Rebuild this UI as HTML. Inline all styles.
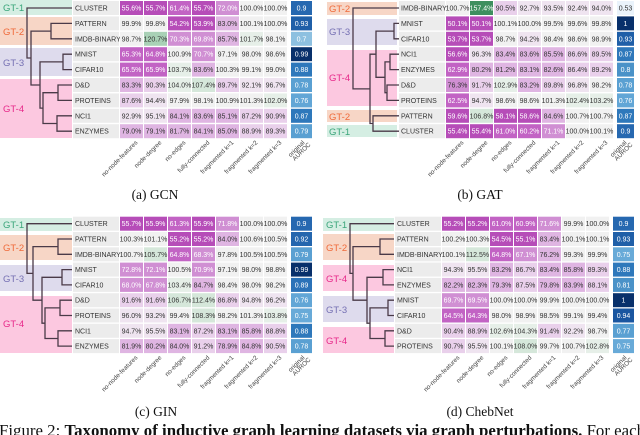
<!DOCTYPE html>
<html><head><meta charset="utf-8"><style>
html,body{margin:0;padding:0;background:#fff;width:640px;height:435px;overflow:hidden;position:relative}
svg{position:absolute;overflow:hidden}
text{font-family:"Liberation Sans",sans-serif;font-size:7px;fill:#333}
text.w{fill:#fff}
.A{fill:#b64db8}.B{fill:#c263c4}.C{fill:#d08fd3}.D{fill:#dfb5e2}.E{fill:#e9d0eb}.F{fill:#efe4f0}.N{fill:#f1f1f1}.G{fill:#e6efe8}.H{fill:#d5e7da}.I{fill:#a9d1b6}.J{fill:#3e8f5f}
.L{fill:#ececec}
.gt{font-size:9.5px}
.tk{font-size:6.3px;fill:#444}
.cap{font-family:"Liberation Serif",serif;font-size:13.5px;fill:#111}
path{fill:none;stroke:#4a3a48;stroke-width:1.3}
</style></head><body>

<!-- (a) GCN -->
<svg style="left:0;top:0" width="320" height="210" viewBox="0 0 320 210">
<rect x="0" y="0" width="72" height="15" fill="#d5eee3"/><text class="gt" x="3" y="11" style="fill:#3aa57a">GT-1</text>
<rect x="0" y="17" width="72" height="28" fill="#f7d6c6"/><text class="gt" x="3" y="35" style="fill:#ef6a3a">GT-2</text>
<rect x="0" y="48" width="72" height="28" fill="#dedbed"/><text class="gt" x="3" y="66" style="fill:#7570b3">GT-3</text>
<rect x="0" y="79" width="72" height="59" fill="#fcc8e0"/><text class="gt" x="3" y="112" style="fill:#e7298a">GT-4</text>
<path d="M72 23.4H51V38.8H72M72 54.2H63V69.6H72M72 85H58V100.4H72M72 115.8H57V131.2H72M58 92.7H43V123.5H57M63 61.9H40V108.1H43M51 31.1H31V85H40M72 8H27V58H31"/>
<g transform="translate(0,8)"><rect class="L" x="73" y="-7" width="46" height="14"/><text x="75" y="2.5">CLUSTER</text>
<rect class="A" x="120" y="-7" width="23" height="14"/><text class="w" x="131.5" y="2.5" text-anchor="middle">55.6%</text>
<rect class="A" x="144" y="-7" width="23" height="14"/><text class="w" x="155.5" y="2.5" text-anchor="middle">55.7%</text>
<rect class="B" x="168" y="-7" width="23" height="14"/><text class="w" x="179.5" y="2.5" text-anchor="middle">61.4%</text>
<rect class="A" x="192" y="-7" width="23" height="14"/><text class="w" x="203.5" y="2.5" text-anchor="middle">55.7%</text>
<rect class="C" x="216" y="-7" width="23" height="14"/><text class="w" x="227.5" y="2.5" text-anchor="middle">72.0%</text>
<rect class="N" x="240" y="-7" width="23" height="14"/><text x="251.5" y="2.5" text-anchor="middle">100.0%</text>
<rect class="N" x="264" y="-7" width="23" height="14"/><text x="275.5" y="2.5" text-anchor="middle">100.0%</text>
<rect x="291" y="-7" width="21" height="14" fill="#2668b0"/><text class="w" x="301.5" y="2.5" text-anchor="middle">0.9</text></g>
<g transform="translate(0,23.4)"><rect class="L" x="73" y="-7" width="46" height="14"/><text x="75" y="2.5">PATTERN</text>
<rect class="N" x="120" y="-7" width="23" height="14"/><text x="131.5" y="2.5" text-anchor="middle">99.9%</text>
<rect class="N" x="144" y="-7" width="23" height="14"/><text x="155.5" y="2.5" text-anchor="middle">99.8%</text>
<rect class="A" x="168" y="-7" width="23" height="14"/><text class="w" x="179.5" y="2.5" text-anchor="middle">54.2%</text>
<rect class="A" x="192" y="-7" width="23" height="14"/><text class="w" x="203.5" y="2.5" text-anchor="middle">53.9%</text>
<rect class="D" x="216" y="-7" width="23" height="14"/><text x="227.5" y="2.5" text-anchor="middle">83.0%</text>
<rect class="N" x="240" y="-7" width="23" height="14"/><text x="251.5" y="2.5" text-anchor="middle">100.1%</text>
<rect class="N" x="264" y="-7" width="23" height="14"/><text x="275.5" y="2.5" text-anchor="middle">100.0%</text>
<rect x="291" y="-7" width="21" height="14" fill="#1f5fa8"/><text class="w" x="301.5" y="2.5" text-anchor="middle">0.93</text></g>
<g transform="translate(0,38.8)"><rect class="L" x="73" y="-7" width="46" height="14"/><text x="75" y="2.5">IMDB-BINARY</text>
<rect class="N" x="120" y="-7" width="23" height="14"/><text x="131.5" y="2.5" text-anchor="middle">98.7%</text>
<rect class="I" x="144" y="-7" width="23" height="14"/><text x="155.5" y="2.5" text-anchor="middle">120.7%</text>
<rect class="C" x="168" y="-7" width="23" height="14"/><text class="w" x="179.5" y="2.5" text-anchor="middle">70.3%</text>
<rect class="C" x="192" y="-7" width="23" height="14"/><text class="w" x="203.5" y="2.5" text-anchor="middle">69.8%</text>
<rect class="D" x="216" y="-7" width="23" height="14"/><text x="227.5" y="2.5" text-anchor="middle">85.7%</text>
<rect class="G" x="240" y="-7" width="23" height="14"/><text x="251.5" y="2.5" text-anchor="middle">101.7%</text>
<rect class="N" x="264" y="-7" width="23" height="14"/><text x="275.5" y="2.5" text-anchor="middle">98.1%</text>
<rect x="291" y="-7" width="21" height="14" fill="#8dc0e0"/><text class="w" x="301.5" y="2.5" text-anchor="middle">0.7</text></g>
<g transform="translate(0,54.2)"><rect class="L" x="73" y="-7" width="46" height="14"/><text x="75" y="2.5">MNIST</text>
<rect class="B" x="120" y="-7" width="23" height="14"/><text class="w" x="131.5" y="2.5" text-anchor="middle">65.3%</text>
<rect class="B" x="144" y="-7" width="23" height="14"/><text class="w" x="155.5" y="2.5" text-anchor="middle">64.8%</text>
<rect class="N" x="168" y="-7" width="23" height="14"/><text x="179.5" y="2.5" text-anchor="middle">100.9%</text>
<rect class="C" x="192" y="-7" width="23" height="14"/><text class="w" x="203.5" y="2.5" text-anchor="middle">70.7%</text>
<rect class="N" x="216" y="-7" width="23" height="14"/><text x="227.5" y="2.5" text-anchor="middle">97.1%</text>
<rect class="N" x="240" y="-7" width="23" height="14"/><text x="251.5" y="2.5" text-anchor="middle">98.0%</text>
<rect class="N" x="264" y="-7" width="23" height="14"/><text x="275.5" y="2.5" text-anchor="middle">98.6%</text>
<rect x="291" y="-7" width="21" height="14" fill="#08306b"/><text class="w" x="301.5" y="2.5" text-anchor="middle">0.99</text></g>
<g transform="translate(0,69.6)"><rect class="L" x="73" y="-7" width="46" height="14"/><text x="75" y="2.5">CIFAR10</text>
<rect class="B" x="120" y="-7" width="23" height="14"/><text class="w" x="131.5" y="2.5" text-anchor="middle">65.5%</text>
<rect class="B" x="144" y="-7" width="23" height="14"/><text class="w" x="155.5" y="2.5" text-anchor="middle">65.9%</text>
<rect class="G" x="168" y="-7" width="23" height="14"/><text x="179.5" y="2.5" text-anchor="middle">103.7%</text>
<rect class="D" x="192" y="-7" width="23" height="14"/><text x="203.5" y="2.5" text-anchor="middle">83.6%</text>
<rect class="N" x="216" y="-7" width="23" height="14"/><text x="227.5" y="2.5" text-anchor="middle">100.3%</text>
<rect class="N" x="240" y="-7" width="23" height="14"/><text x="251.5" y="2.5" text-anchor="middle">99.1%</text>
<rect class="N" x="264" y="-7" width="23" height="14"/><text x="275.5" y="2.5" text-anchor="middle">99.0%</text>
<rect x="291" y="-7" width="21" height="14" fill="#2e78bb"/><text class="w" x="301.5" y="2.5" text-anchor="middle">0.88</text></g>
<g transform="translate(0,85)"><rect class="L" x="73" y="-7" width="46" height="14"/><text x="75" y="2.5">D&amp;D</text>
<rect class="D" x="120" y="-7" width="23" height="14"/><text x="131.5" y="2.5" text-anchor="middle">83.3%</text>
<rect class="E" x="144" y="-7" width="23" height="14"/><text x="155.5" y="2.5" text-anchor="middle">90.3%</text>
<rect class="G" x="168" y="-7" width="23" height="14"/><text x="179.5" y="2.5" text-anchor="middle">104.0%</text>
<rect class="H" x="192" y="-7" width="23" height="14"/><text x="203.5" y="2.5" text-anchor="middle">107.4%</text>
<rect class="E" x="216" y="-7" width="23" height="14"/><text x="227.5" y="2.5" text-anchor="middle">89.7%</text>
<rect class="F" x="240" y="-7" width="23" height="14"/><text x="251.5" y="2.5" text-anchor="middle">92.1%</text>
<rect class="F" x="264" y="-7" width="23" height="14"/><text x="275.5" y="2.5" text-anchor="middle">96.7%</text>
<rect x="291" y="-7" width="21" height="14" fill="#5aa0d2"/><text class="w" x="301.5" y="2.5" text-anchor="middle">0.78</text></g>
<g transform="translate(0,100.4)"><rect class="L" x="73" y="-7" width="46" height="14"/><text x="75" y="2.5">PROTEINS</text>
<rect class="E" x="120" y="-7" width="23" height="14"/><text x="131.5" y="2.5" text-anchor="middle">87.6%</text>
<rect class="F" x="144" y="-7" width="23" height="14"/><text x="155.5" y="2.5" text-anchor="middle">94.4%</text>
<rect class="N" x="168" y="-7" width="23" height="14"/><text x="179.5" y="2.5" text-anchor="middle">97.9%</text>
<rect class="N" x="192" y="-7" width="23" height="14"/><text x="203.5" y="2.5" text-anchor="middle">98.1%</text>
<rect class="N" x="216" y="-7" width="23" height="14"/><text x="227.5" y="2.5" text-anchor="middle">100.9%</text>
<rect class="N" x="240" y="-7" width="23" height="14"/><text x="251.5" y="2.5" text-anchor="middle">101.3%</text>
<rect class="G" x="264" y="-7" width="23" height="14"/><text x="275.5" y="2.5" text-anchor="middle">102.0%</text>
<rect x="291" y="-7" width="21" height="14" fill="#62a6d6"/><text class="w" x="301.5" y="2.5" text-anchor="middle">0.76</text></g>
<g transform="translate(0,115.8)"><rect class="L" x="73" y="-7" width="46" height="14"/><text x="75" y="2.5">NCI1</text>
<rect class="F" x="120" y="-7" width="23" height="14"/><text x="131.5" y="2.5" text-anchor="middle">92.9%</text>
<rect class="F" x="144" y="-7" width="23" height="14"/><text x="155.5" y="2.5" text-anchor="middle">95.1%</text>
<rect class="D" x="168" y="-7" width="23" height="14"/><text x="179.5" y="2.5" text-anchor="middle">84.1%</text>
<rect class="D" x="192" y="-7" width="23" height="14"/><text x="203.5" y="2.5" text-anchor="middle">83.6%</text>
<rect class="D" x="216" y="-7" width="23" height="14"/><text x="227.5" y="2.5" text-anchor="middle">85.1%</text>
<rect class="E" x="240" y="-7" width="23" height="14"/><text x="251.5" y="2.5" text-anchor="middle">87.2%</text>
<rect class="E" x="264" y="-7" width="23" height="14"/><text x="275.5" y="2.5" text-anchor="middle">90.9%</text>
<rect x="291" y="-7" width="21" height="14" fill="#2e78bb"/><text class="w" x="301.5" y="2.5" text-anchor="middle">0.87</text></g>
<g transform="translate(0,131.2)"><rect class="L" x="73" y="-7" width="46" height="14"/><text x="75" y="2.5">ENZYMES</text>
<rect class="D" x="120" y="-7" width="23" height="14"/><text x="131.5" y="2.5" text-anchor="middle">79.0%</text>
<rect class="D" x="144" y="-7" width="23" height="14"/><text x="155.5" y="2.5" text-anchor="middle">79.1%</text>
<rect class="D" x="168" y="-7" width="23" height="14"/><text x="179.5" y="2.5" text-anchor="middle">81.7%</text>
<rect class="D" x="192" y="-7" width="23" height="14"/><text x="203.5" y="2.5" text-anchor="middle">84.1%</text>
<rect class="D" x="216" y="-7" width="23" height="14"/><text x="227.5" y="2.5" text-anchor="middle">85.0%</text>
<rect class="E" x="240" y="-7" width="23" height="14"/><text x="251.5" y="2.5" text-anchor="middle">88.9%</text>
<rect class="E" x="264" y="-7" width="23" height="14"/><text x="275.5" y="2.5" text-anchor="middle">89.3%</text>
<rect x="291" y="-7" width="21" height="14" fill="#5aa0d2"/><text class="w" x="301.5" y="2.5" text-anchor="middle">0.79</text></g>
<g class="tk">
<text class="tk" text-anchor="end" transform="translate(138,143) rotate(-45)">no-node-features</text>
<text class="tk" text-anchor="end" transform="translate(162,143) rotate(-45)">node-degree</text>
<text class="tk" text-anchor="end" transform="translate(186,143) rotate(-45)">no-edges</text>
<text class="tk" text-anchor="end" transform="translate(210,143) rotate(-45)">fully-connected</text>
<text class="tk" text-anchor="end" transform="translate(234,143) rotate(-45)">fragmented k=1</text>
<text class="tk" text-anchor="end" transform="translate(258,143) rotate(-45)">fragmented k=2</text>
<text class="tk" text-anchor="end" transform="translate(282,143) rotate(-45)">fragmented k=3</text>
<text class="tk" text-anchor="end" transform="translate(305,143) rotate(-45)">original</text>
<text class="tk" text-anchor="end" transform="translate(311,145) rotate(-45)">AUROC</text></g>
<text class="cap" x="155" y="199" text-anchor="middle">(a) GCN</text>
</svg>

<!-- (b) GAT -->
<svg style="left:320px;top:0" width="320" height="210" viewBox="0 0 320 210">
<rect x="7" y="2" width="70" height="13" fill="#f7d6c6"/><text class="gt" x="9" y="12" style="fill:#ef6a3a">GT-2</text>
<rect x="7" y="19" width="70" height="26" fill="#dedbed"/><text class="gt" x="9" y="35" style="fill:#7570b3">GT-3</text>
<rect x="7" y="50" width="70" height="56" fill="#fcc8e0"/><text class="gt" x="9" y="81" style="fill:#e7298a">GT-4</text>
<rect x="7" y="110" width="70" height="12" fill="#f7d6c6"/><text class="gt" x="9" y="120" style="fill:#ef6a3a">GT-2</text>
<rect x="7" y="125" width="70" height="12" fill="#d5eee3"/><text class="gt" x="9" y="135" style="fill:#3aa57a">GT-1</text>
<path d="M80 23.4H74V38.8H80M80 54.2H70V69.6H80M80 85H67V100.4H80M70 61.9H65V92.7H67M74 31.1H56V77.3H65M80 115.8H53V131.2H80M56 54.2H50V123.5H53M80 8H33V88.9H50"/>
<g transform="translate(0,8)"><rect class="L" x="79" y="-7" width="46" height="14"/><text x="81" y="2.5">IMDB-BINARY</text>
<rect class="N" x="126" y="-7" width="23" height="14"/><text x="137.5" y="2.5" text-anchor="middle">100.7%</text>
<rect class="J" x="150" y="-7" width="23" height="14"/><text class="w" x="161.5" y="2.5" text-anchor="middle">157.4%</text>
<rect class="E" x="174" y="-7" width="23" height="14"/><text x="185.5" y="2.5" text-anchor="middle">90.5%</text>
<rect class="F" x="198" y="-7" width="23" height="14"/><text x="209.5" y="2.5" text-anchor="middle">92.7%</text>
<rect class="F" x="222" y="-7" width="23" height="14"/><text x="233.5" y="2.5" text-anchor="middle">93.5%</text>
<rect class="F" x="246" y="-7" width="23" height="14"/><text x="257.5" y="2.5" text-anchor="middle">92.4%</text>
<rect class="F" x="270" y="-7" width="23" height="14"/><text x="281.5" y="2.5" text-anchor="middle">94.0%</text>
<rect x="297" y="-7" width="17" height="14" fill="#eaf3fb"/><text x="305.5" y="2.5" text-anchor="middle">0.53</text></g>
<g transform="translate(0,23.4)"><rect class="L" x="79" y="-7" width="46" height="14"/><text x="81" y="2.5">MNIST</text>
<rect class="A" x="126" y="-7" width="23" height="14"/><text class="w" x="137.5" y="2.5" text-anchor="middle">50.1%</text>
<rect class="A" x="150" y="-7" width="23" height="14"/><text class="w" x="161.5" y="2.5" text-anchor="middle">50.1%</text>
<rect class="N" x="174" y="-7" width="23" height="14"/><text x="185.5" y="2.5" text-anchor="middle">100.1%</text>
<rect class="N" x="198" y="-7" width="23" height="14"/><text x="209.5" y="2.5" text-anchor="middle">100.0%</text>
<rect class="N" x="222" y="-7" width="23" height="14"/><text x="233.5" y="2.5" text-anchor="middle">99.5%</text>
<rect class="N" x="246" y="-7" width="23" height="14"/><text x="257.5" y="2.5" text-anchor="middle">99.6%</text>
<rect class="N" x="270" y="-7" width="23" height="14"/><text x="281.5" y="2.5" text-anchor="middle">99.8%</text>
<rect x="297" y="-7" width="17" height="14" fill="#08306b"/><text class="w" x="305.5" y="2.5" text-anchor="middle">1</text></g>
<g transform="translate(0,38.8)"><rect class="L" x="79" y="-7" width="46" height="14"/><text x="81" y="2.5">CIFAR10</text>
<rect class="A" x="126" y="-7" width="23" height="14"/><text class="w" x="137.5" y="2.5" text-anchor="middle">53.7%</text>
<rect class="A" x="150" y="-7" width="23" height="14"/><text class="w" x="161.5" y="2.5" text-anchor="middle">53.7%</text>
<rect class="N" x="174" y="-7" width="23" height="14"/><text x="185.5" y="2.5" text-anchor="middle">98.7%</text>
<rect class="F" x="198" y="-7" width="23" height="14"/><text x="209.5" y="2.5" text-anchor="middle">94.2%</text>
<rect class="N" x="222" y="-7" width="23" height="14"/><text x="233.5" y="2.5" text-anchor="middle">98.4%</text>
<rect class="N" x="246" y="-7" width="23" height="14"/><text x="257.5" y="2.5" text-anchor="middle">98.6%</text>
<rect class="N" x="270" y="-7" width="23" height="14"/><text x="281.5" y="2.5" text-anchor="middle">98.9%</text>
<rect x="297" y="-7" width="17" height="14" fill="#1f5fa8"/><text class="w" x="305.5" y="2.5" text-anchor="middle">0.93</text></g>
<g transform="translate(0,54.2)"><rect class="L" x="79" y="-7" width="46" height="14"/><text x="81" y="2.5">NCI1</text>
<rect class="A" x="126" y="-7" width="23" height="14"/><text class="w" x="137.5" y="2.5" text-anchor="middle">56.6%</text>
<rect class="F" x="150" y="-7" width="23" height="14"/><text x="161.5" y="2.5" text-anchor="middle">96.3%</text>
<rect class="D" x="174" y="-7" width="23" height="14"/><text x="185.5" y="2.5" text-anchor="middle">83.4%</text>
<rect class="D" x="198" y="-7" width="23" height="14"/><text x="209.5" y="2.5" text-anchor="middle">83.6%</text>
<rect class="D" x="222" y="-7" width="23" height="14"/><text x="233.5" y="2.5" text-anchor="middle">85.5%</text>
<rect class="E" x="246" y="-7" width="23" height="14"/><text x="257.5" y="2.5" text-anchor="middle">86.6%</text>
<rect class="E" x="270" y="-7" width="23" height="14"/><text x="281.5" y="2.5" text-anchor="middle">89.5%</text>
<rect x="297" y="-7" width="17" height="14" fill="#2e78bb"/><text class="w" x="305.5" y="2.5" text-anchor="middle">0.87</text></g>
<g transform="translate(0,69.6)"><rect class="L" x="79" y="-7" width="46" height="14"/><text x="81" y="2.5">ENZYMES</text>
<rect class="B" x="126" y="-7" width="23" height="14"/><text class="w" x="137.5" y="2.5" text-anchor="middle">62.9%</text>
<rect class="D" x="150" y="-7" width="23" height="14"/><text x="161.5" y="2.5" text-anchor="middle">80.2%</text>
<rect class="D" x="174" y="-7" width="23" height="14"/><text x="185.5" y="2.5" text-anchor="middle">81.2%</text>
<rect class="D" x="198" y="-7" width="23" height="14"/><text x="209.5" y="2.5" text-anchor="middle">83.1%</text>
<rect class="D" x="222" y="-7" width="23" height="14"/><text x="233.5" y="2.5" text-anchor="middle">82.6%</text>
<rect class="E" x="246" y="-7" width="23" height="14"/><text x="257.5" y="2.5" text-anchor="middle">86.4%</text>
<rect class="E" x="270" y="-7" width="23" height="14"/><text x="281.5" y="2.5" text-anchor="middle">89.2%</text>
<rect x="297" y="-7" width="17" height="14" fill="#4a92c8"/><text class="w" x="305.5" y="2.5" text-anchor="middle">0.8</text></g>
<g transform="translate(0,85)"><rect class="L" x="79" y="-7" width="46" height="14"/><text x="81" y="2.5">D&amp;D</text>
<rect class="C" x="126" y="-7" width="23" height="14"/><text x="137.5" y="2.5" text-anchor="middle">76.3%</text>
<rect class="E" x="150" y="-7" width="23" height="14"/><text x="161.5" y="2.5" text-anchor="middle">91.7%</text>
<rect class="G" x="174" y="-7" width="23" height="14"/><text x="185.5" y="2.5" text-anchor="middle">102.9%</text>
<rect class="D" x="198" y="-7" width="23" height="14"/><text x="209.5" y="2.5" text-anchor="middle">83.2%</text>
<rect class="E" x="222" y="-7" width="23" height="14"/><text x="233.5" y="2.5" text-anchor="middle">89.8%</text>
<rect class="F" x="246" y="-7" width="23" height="14"/><text x="257.5" y="2.5" text-anchor="middle">96.8%</text>
<rect class="N" x="270" y="-7" width="23" height="14"/><text x="281.5" y="2.5" text-anchor="middle">98.2%</text>
<rect x="297" y="-7" width="17" height="14" fill="#5aa0d2"/><text class="w" x="305.5" y="2.5" text-anchor="middle">0.78</text></g>
<g transform="translate(0,100.4)"><rect class="L" x="79" y="-7" width="46" height="14"/><text x="81" y="2.5">PROTEINS</text>
<rect class="B" x="126" y="-7" width="23" height="14"/><text class="w" x="137.5" y="2.5" text-anchor="middle">62.5%</text>
<rect class="F" x="150" y="-7" width="23" height="14"/><text x="161.5" y="2.5" text-anchor="middle">94.7%</text>
<rect class="N" x="174" y="-7" width="23" height="14"/><text x="185.5" y="2.5" text-anchor="middle">98.6%</text>
<rect class="N" x="198" y="-7" width="23" height="14"/><text x="209.5" y="2.5" text-anchor="middle">98.6%</text>
<rect class="N" x="222" y="-7" width="23" height="14"/><text x="233.5" y="2.5" text-anchor="middle">101.3%</text>
<rect class="G" x="246" y="-7" width="23" height="14"/><text x="257.5" y="2.5" text-anchor="middle">102.4%</text>
<rect class="G" x="270" y="-7" width="23" height="14"/><text x="281.5" y="2.5" text-anchor="middle">103.2%</text>
<rect x="297" y="-7" width="17" height="14" fill="#62a6d6"/><text class="w" x="305.5" y="2.5" text-anchor="middle">0.76</text></g>
<g transform="translate(0,115.8)"><rect class="L" x="79" y="-7" width="46" height="14"/><text x="81" y="2.5">PATTERN</text>
<rect class="A" x="126" y="-7" width="23" height="14"/><text class="w" x="137.5" y="2.5" text-anchor="middle">59.6%</text>
<rect class="H" x="150" y="-7" width="23" height="14"/><text x="161.5" y="2.5" text-anchor="middle">106.8%</text>
<rect class="A" x="174" y="-7" width="23" height="14"/><text class="w" x="185.5" y="2.5" text-anchor="middle">58.1%</text>
<rect class="A" x="198" y="-7" width="23" height="14"/><text class="w" x="209.5" y="2.5" text-anchor="middle">58.6%</text>
<rect class="D" x="222" y="-7" width="23" height="14"/><text x="233.5" y="2.5" text-anchor="middle">84.6%</text>
<rect class="N" x="246" y="-7" width="23" height="14"/><text x="257.5" y="2.5" text-anchor="middle">100.7%</text>
<rect class="N" x="270" y="-7" width="23" height="14"/><text x="281.5" y="2.5" text-anchor="middle">100.7%</text>
<rect x="297" y="-7" width="17" height="14" fill="#2e78bb"/><text class="w" x="305.5" y="2.5" text-anchor="middle">0.87</text></g>
<g transform="translate(0,131.2)"><rect class="L" x="79" y="-7" width="46" height="14"/><text x="81" y="2.5">CLUSTER</text>
<rect class="A" x="126" y="-7" width="23" height="14"/><text class="w" x="137.5" y="2.5" text-anchor="middle">55.4%</text>
<rect class="A" x="150" y="-7" width="23" height="14"/><text class="w" x="161.5" y="2.5" text-anchor="middle">55.4%</text>
<rect class="B" x="174" y="-7" width="23" height="14"/><text class="w" x="185.5" y="2.5" text-anchor="middle">61.0%</text>
<rect class="B" x="198" y="-7" width="23" height="14"/><text class="w" x="209.5" y="2.5" text-anchor="middle">60.2%</text>
<rect class="C" x="222" y="-7" width="23" height="14"/><text class="w" x="233.5" y="2.5" text-anchor="middle">71.1%</text>
<rect class="N" x="246" y="-7" width="23" height="14"/><text x="257.5" y="2.5" text-anchor="middle">100.0%</text>
<rect class="N" x="270" y="-7" width="23" height="14"/><text x="281.5" y="2.5" text-anchor="middle">100.1%</text>
<rect x="297" y="-7" width="17" height="14" fill="#2668b0"/><text class="w" x="305.5" y="2.5" text-anchor="middle">0.9</text></g>
<text class="tk" text-anchor="end" transform="translate(144,143) rotate(-45)">no-node-features</text>
<text class="tk" text-anchor="end" transform="translate(168,143) rotate(-45)">node-degree</text>
<text class="tk" text-anchor="end" transform="translate(192,143) rotate(-45)">no-edges</text>
<text class="tk" text-anchor="end" transform="translate(216,143) rotate(-45)">fully-connected</text>
<text class="tk" text-anchor="end" transform="translate(240,143) rotate(-45)">fragmented k=1</text>
<text class="tk" text-anchor="end" transform="translate(264,143) rotate(-45)">fragmented k=2</text>
<text class="tk" text-anchor="end" transform="translate(288,143) rotate(-45)">fragmented k=3</text>
<text class="tk" text-anchor="end" transform="translate(307,143) rotate(-45)">original</text>
<text class="tk" text-anchor="end" transform="translate(313,145) rotate(-45)">AUROC</text>
<text class="cap" x="160" y="199" text-anchor="middle">(b) GAT</text>
</svg>

<!-- (c) GIN -->
<svg style="left:0;top:210px" width="320" height="210" viewBox="0 0 320 210">
<rect x="0" y="8" width="72" height="13" fill="#d5eee3"/><text class="gt" x="3" y="18" style="fill:#3aa57a">GT-1</text>
<rect x="0" y="25" width="72" height="25" fill="#f7d6c6"/><text class="gt" x="3" y="41" style="fill:#ef6a3a">GT-2</text>
<rect x="0" y="55" width="72" height="26" fill="#dedbed"/><text class="gt" x="3" y="72" style="fill:#7570b3">GT-3</text>
<rect x="0" y="86" width="72" height="57" fill="#fcc8e0"/><text class="gt" x="3" y="117" style="fill:#e7298a">GT-4</text>
<path d="M72 29H58V44.3H72M72 59.6H62V74.9H72M72 90.2H60V105.5H72M72 120.8H58V136.1H72M60 97.9H45V128.5H58M62 67.3H42V113.2H45M58 36.6H33V90.2H42M72 13.7H27V63.4H33"/>
<g transform="translate(0,13.7)"><rect class="L" x="73" y="-7" width="46" height="14"/><text x="75" y="2.5">CLUSTER</text>
<rect class="A" x="120" y="-7" width="23" height="14"/><text class="w" x="131.5" y="2.5" text-anchor="middle">55.7%</text>
<rect class="A" x="144" y="-7" width="23" height="14"/><text class="w" x="155.5" y="2.5" text-anchor="middle">55.9%</text>
<rect class="B" x="168" y="-7" width="23" height="14"/><text class="w" x="179.5" y="2.5" text-anchor="middle">61.3%</text>
<rect class="A" x="192" y="-7" width="23" height="14"/><text class="w" x="203.5" y="2.5" text-anchor="middle">55.9%</text>
<rect class="C" x="216" y="-7" width="23" height="14"/><text class="w" x="227.5" y="2.5" text-anchor="middle">71.8%</text>
<rect class="N" x="240" y="-7" width="23" height="14"/><text x="251.5" y="2.5" text-anchor="middle">100.0%</text>
<rect class="N" x="264" y="-7" width="23" height="14"/><text x="275.5" y="2.5" text-anchor="middle">100.0%</text>
<rect x="291" y="-7" width="21" height="14" fill="#2668b0"/><text class="w" x="301.5" y="2.5" text-anchor="middle">0.9</text></g>
<g transform="translate(0,29)"><rect class="L" x="73" y="-7" width="46" height="14"/><text x="75" y="2.5">PATTERN</text>
<rect class="N" x="120" y="-7" width="23" height="14"/><text x="131.5" y="2.5" text-anchor="middle">100.3%</text>
<rect class="N" x="144" y="-7" width="23" height="14"/><text x="155.5" y="2.5" text-anchor="middle">101.1%</text>
<rect class="A" x="168" y="-7" width="23" height="14"/><text class="w" x="179.5" y="2.5" text-anchor="middle">55.2%</text>
<rect class="A" x="192" y="-7" width="23" height="14"/><text class="w" x="203.5" y="2.5" text-anchor="middle">55.2%</text>
<rect class="D" x="216" y="-7" width="23" height="14"/><text x="227.5" y="2.5" text-anchor="middle">84.0%</text>
<rect class="N" x="240" y="-7" width="23" height="14"/><text x="251.5" y="2.5" text-anchor="middle">100.6%</text>
<rect class="N" x="264" y="-7" width="23" height="14"/><text x="275.5" y="2.5" text-anchor="middle">100.5%</text>
<rect x="291" y="-7" width="21" height="14" fill="#2466ae"/><text class="w" x="301.5" y="2.5" text-anchor="middle">0.92</text></g>
<g transform="translate(0,44.3)"><rect class="L" x="73" y="-7" width="46" height="14"/><text x="75" y="2.5">IMDB-BINARY</text>
<rect class="N" x="120" y="-7" width="23" height="14"/><text x="131.5" y="2.5" text-anchor="middle">100.7%</text>
<rect class="H" x="144" y="-7" width="23" height="14"/><text x="155.5" y="2.5" text-anchor="middle">105.7%</text>
<rect class="B" x="168" y="-7" width="23" height="14"/><text class="w" x="179.5" y="2.5" text-anchor="middle">64.8%</text>
<rect class="C" x="192" y="-7" width="23" height="14"/><text class="w" x="203.5" y="2.5" text-anchor="middle">68.3%</text>
<rect class="N" x="216" y="-7" width="23" height="14"/><text x="227.5" y="2.5" text-anchor="middle">97.8%</text>
<rect class="N" x="240" y="-7" width="23" height="14"/><text x="251.5" y="2.5" text-anchor="middle">100.5%</text>
<rect class="N" x="264" y="-7" width="23" height="14"/><text x="275.5" y="2.5" text-anchor="middle">100.5%</text>
<rect x="291" y="-7" width="21" height="14" fill="#5aa0d2"/><text class="w" x="301.5" y="2.5" text-anchor="middle">0.79</text></g>
<g transform="translate(0,59.6)"><rect class="L" x="73" y="-7" width="46" height="14"/><text x="75" y="2.5">MNIST</text>
<rect class="C" x="120" y="-7" width="23" height="14"/><text class="w" x="131.5" y="2.5" text-anchor="middle">72.8%</text>
<rect class="C" x="144" y="-7" width="23" height="14"/><text class="w" x="155.5" y="2.5" text-anchor="middle">72.1%</text>
<rect class="N" x="168" y="-7" width="23" height="14"/><text x="179.5" y="2.5" text-anchor="middle">100.5%</text>
<rect class="C" x="192" y="-7" width="23" height="14"/><text class="w" x="203.5" y="2.5" text-anchor="middle">70.9%</text>
<rect class="N" x="216" y="-7" width="23" height="14"/><text x="227.5" y="2.5" text-anchor="middle">97.1%</text>
<rect class="N" x="240" y="-7" width="23" height="14"/><text x="251.5" y="2.5" text-anchor="middle">98.0%</text>
<rect class="N" x="264" y="-7" width="23" height="14"/><text x="275.5" y="2.5" text-anchor="middle">98.8%</text>
<rect x="291" y="-7" width="21" height="14" fill="#08306b"/><text class="w" x="301.5" y="2.5" text-anchor="middle">0.99</text></g>
<g transform="translate(0,74.9)"><rect class="L" x="73" y="-7" width="46" height="14"/><text x="75" y="2.5">CIFAR10</text>
<rect class="C" x="120" y="-7" width="23" height="14"/><text class="w" x="131.5" y="2.5" text-anchor="middle">68.0%</text>
<rect class="C" x="144" y="-7" width="23" height="14"/><text class="w" x="155.5" y="2.5" text-anchor="middle">67.8%</text>
<rect class="G" x="168" y="-7" width="23" height="14"/><text x="179.5" y="2.5" text-anchor="middle">103.4%</text>
<rect class="D" x="192" y="-7" width="23" height="14"/><text x="203.5" y="2.5" text-anchor="middle">84.7%</text>
<rect class="N" x="216" y="-7" width="23" height="14"/><text x="227.5" y="2.5" text-anchor="middle">98.4%</text>
<rect class="N" x="240" y="-7" width="23" height="14"/><text x="251.5" y="2.5" text-anchor="middle">98.0%</text>
<rect class="N" x="264" y="-7" width="23" height="14"/><text x="275.5" y="2.5" text-anchor="middle">98.2%</text>
<rect x="291" y="-7" width="21" height="14" fill="#2b72b8"/><text class="w" x="301.5" y="2.5" text-anchor="middle">0.89</text></g>
<g transform="translate(0,90.2)"><rect class="L" x="73" y="-7" width="46" height="14"/><text x="75" y="2.5">D&amp;D</text>
<rect class="E" x="120" y="-7" width="23" height="14"/><text x="131.5" y="2.5" text-anchor="middle">91.6%</text>
<rect class="E" x="144" y="-7" width="23" height="14"/><text x="155.5" y="2.5" text-anchor="middle">91.6%</text>
<rect class="H" x="168" y="-7" width="23" height="14"/><text x="179.5" y="2.5" text-anchor="middle">106.7%</text>
<rect class="H" x="192" y="-7" width="23" height="14"/><text x="203.5" y="2.5" text-anchor="middle">112.4%</text>
<rect class="E" x="216" y="-7" width="23" height="14"/><text x="227.5" y="2.5" text-anchor="middle">86.8%</text>
<rect class="F" x="240" y="-7" width="23" height="14"/><text x="251.5" y="2.5" text-anchor="middle">94.8%</text>
<rect class="F" x="264" y="-7" width="23" height="14"/><text x="275.5" y="2.5" text-anchor="middle">96.2%</text>
<rect x="291" y="-7" width="21" height="14" fill="#62a6d6"/><text class="w" x="301.5" y="2.5" text-anchor="middle">0.76</text></g>
<g transform="translate(0,105.5)"><rect class="L" x="73" y="-7" width="46" height="14"/><text x="75" y="2.5">PROTEINS</text>
<rect class="F" x="120" y="-7" width="23" height="14"/><text x="131.5" y="2.5" text-anchor="middle">96.0%</text>
<rect class="F" x="144" y="-7" width="23" height="14"/><text x="155.5" y="2.5" text-anchor="middle">93.2%</text>
<rect class="N" x="168" y="-7" width="23" height="14"/><text x="179.5" y="2.5" text-anchor="middle">99.4%</text>
<rect class="H" x="192" y="-7" width="23" height="14"/><text x="203.5" y="2.5" text-anchor="middle">108.3%</text>
<rect class="N" x="216" y="-7" width="23" height="14"/><text x="227.5" y="2.5" text-anchor="middle">98.2%</text>
<rect class="N" x="240" y="-7" width="23" height="14"/><text x="251.5" y="2.5" text-anchor="middle">101.3%</text>
<rect class="G" x="264" y="-7" width="23" height="14"/><text x="275.5" y="2.5" text-anchor="middle">103.8%</text>
<rect x="291" y="-7" width="21" height="14" fill="#68aad8"/><text class="w" x="301.5" y="2.5" text-anchor="middle">0.75</text></g>
<g transform="translate(0,120.8)"><rect class="L" x="73" y="-7" width="46" height="14"/><text x="75" y="2.5">NCI1</text>
<rect class="F" x="120" y="-7" width="23" height="14"/><text x="131.5" y="2.5" text-anchor="middle">94.7%</text>
<rect class="F" x="144" y="-7" width="23" height="14"/><text x="155.5" y="2.5" text-anchor="middle">95.5%</text>
<rect class="D" x="168" y="-7" width="23" height="14"/><text x="179.5" y="2.5" text-anchor="middle">83.1%</text>
<rect class="E" x="192" y="-7" width="23" height="14"/><text x="203.5" y="2.5" text-anchor="middle">87.2%</text>
<rect class="D" x="216" y="-7" width="23" height="14"/><text x="227.5" y="2.5" text-anchor="middle">83.1%</text>
<rect class="D" x="240" y="-7" width="23" height="14"/><text x="251.5" y="2.5" text-anchor="middle">85.8%</text>
<rect class="E" x="264" y="-7" width="23" height="14"/><text x="275.5" y="2.5" text-anchor="middle">88.8%</text>
<rect x="291" y="-7" width="21" height="14" fill="#2e78bb"/><text class="w" x="301.5" y="2.5" text-anchor="middle">0.88</text></g>
<g transform="translate(0,136.1)"><rect class="L" x="73" y="-7" width="46" height="14"/><text x="75" y="2.5">ENZYMES</text>
<rect class="D" x="120" y="-7" width="23" height="14"/><text x="131.5" y="2.5" text-anchor="middle">81.9%</text>
<rect class="D" x="144" y="-7" width="23" height="14"/><text x="155.5" y="2.5" text-anchor="middle">80.2%</text>
<rect class="D" x="168" y="-7" width="23" height="14"/><text x="179.5" y="2.5" text-anchor="middle">84.0%</text>
<rect class="E" x="192" y="-7" width="23" height="14"/><text x="203.5" y="2.5" text-anchor="middle">91.2%</text>
<rect class="D" x="216" y="-7" width="23" height="14"/><text x="227.5" y="2.5" text-anchor="middle">78.9%</text>
<rect class="D" x="240" y="-7" width="23" height="14"/><text x="251.5" y="2.5" text-anchor="middle">84.8%</text>
<rect class="E" x="264" y="-7" width="23" height="14"/><text x="275.5" y="2.5" text-anchor="middle">90.5%</text>
<rect x="291" y="-7" width="21" height="14" fill="#5aa0d2"/><text class="w" x="301.5" y="2.5" text-anchor="middle">0.78</text></g>
<text class="tk" text-anchor="end" transform="translate(138,148) rotate(-45)">no-node-features</text>
<text class="tk" text-anchor="end" transform="translate(162,148) rotate(-45)">node-degree</text>
<text class="tk" text-anchor="end" transform="translate(186,148) rotate(-45)">no-edges</text>
<text class="tk" text-anchor="end" transform="translate(210,148) rotate(-45)">fully-connected</text>
<text class="tk" text-anchor="end" transform="translate(234,148) rotate(-45)">fragmented k=1</text>
<text class="tk" text-anchor="end" transform="translate(258,148) rotate(-45)">fragmented k=2</text>
<text class="tk" text-anchor="end" transform="translate(282,148) rotate(-45)">fragmented k=3</text>
<text class="tk" text-anchor="end" transform="translate(305,148) rotate(-45)">original</text>
<text class="tk" text-anchor="end" transform="translate(311,150) rotate(-45)">AUROC</text>
<text class="cap" x="156" y="206" text-anchor="middle">(c) GIN</text>
</svg>

<!-- (d) ChebNet -->
<svg style="left:320px;top:210px" width="320" height="210" viewBox="0 0 320 210">
<rect x="3" y="8" width="71" height="13" fill="#d5eee3"/><text class="gt" x="6" y="18" style="fill:#3aa57a">GT-1</text>
<rect x="3" y="24" width="71" height="26" fill="#f7d6c6"/><text class="gt" x="6" y="41" style="fill:#ef6a3a">GT-2</text>
<rect x="3" y="55" width="71" height="26" fill="#fcc8e0"/><text class="gt" x="6" y="72" style="fill:#e7298a">GT-4</text>
<rect x="3" y="86" width="71" height="26" fill="#dedbed"/><text class="gt" x="6" y="103" style="fill:#7570b3">GT-3</text>
<rect x="3" y="117" width="71" height="26" fill="#fcc8e0"/><text class="gt" x="6" y="134" style="fill:#e7298a">GT-4</text>
<path d="M74 29H60V44.3H74M74 59.6H63V74.9H74M74 90.2H68V105.5H74M74 120.8H65V136.1H74M68 97.9H50V128.5H65M63 67.3H47V113.2H50M60 36.6H33V90.2H47M74 13.7H30V63.4H33"/>
<g transform="translate(0,13.7)"><rect class="L" x="75" y="-7" width="46" height="14"/><text x="77" y="2.5">CLUSTER</text>
<rect class="A" x="122" y="-7" width="23" height="14"/><text class="w" x="133.5" y="2.5" text-anchor="middle">55.2%</text>
<rect class="A" x="146" y="-7" width="23" height="14"/><text class="w" x="157.5" y="2.5" text-anchor="middle">55.2%</text>
<rect class="B" x="170" y="-7" width="23" height="14"/><text class="w" x="181.5" y="2.5" text-anchor="middle">61.0%</text>
<rect class="B" x="194" y="-7" width="23" height="14"/><text class="w" x="205.5" y="2.5" text-anchor="middle">60.9%</text>
<rect class="C" x="218" y="-7" width="23" height="14"/><text class="w" x="229.5" y="2.5" text-anchor="middle">71.6%</text>
<rect class="N" x="242" y="-7" width="23" height="14"/><text x="253.5" y="2.5" text-anchor="middle">99.9%</text>
<rect class="N" x="266" y="-7" width="23" height="14"/><text x="277.5" y="2.5" text-anchor="middle">100.0%</text>
<rect x="293" y="-7" width="21" height="14" fill="#2668b0"/><text class="w" x="303.5" y="2.5" text-anchor="middle">0.9</text></g>
<g transform="translate(0,29)"><rect class="L" x="75" y="-7" width="46" height="14"/><text x="77" y="2.5">PATTERN</text>
<rect class="N" x="122" y="-7" width="23" height="14"/><text x="133.5" y="2.5" text-anchor="middle">100.2%</text>
<rect class="N" x="146" y="-7" width="23" height="14"/><text x="157.5" y="2.5" text-anchor="middle">100.3%</text>
<rect class="A" x="170" y="-7" width="23" height="14"/><text class="w" x="181.5" y="2.5" text-anchor="middle">54.5%</text>
<rect class="A" x="194" y="-7" width="23" height="14"/><text class="w" x="205.5" y="2.5" text-anchor="middle">55.1%</text>
<rect class="D" x="218" y="-7" width="23" height="14"/><text x="229.5" y="2.5" text-anchor="middle">83.4%</text>
<rect class="N" x="242" y="-7" width="23" height="14"/><text x="253.5" y="2.5" text-anchor="middle">100.1%</text>
<rect class="N" x="266" y="-7" width="23" height="14"/><text x="277.5" y="2.5" text-anchor="middle">100.1%</text>
<rect x="293" y="-7" width="21" height="14" fill="#1f5fa8"/><text class="w" x="303.5" y="2.5" text-anchor="middle">0.93</text></g>
<g transform="translate(0,44.3)"><rect class="L" x="75" y="-7" width="46" height="14"/><text x="77" y="2.5">IMDB-BINARY</text>
<rect class="N" x="122" y="-7" width="23" height="14"/><text x="133.5" y="2.5" text-anchor="middle">100.1%</text>
<rect class="H" x="146" y="-7" width="23" height="14"/><text x="157.5" y="2.5" text-anchor="middle">112.5%</text>
<rect class="B" x="170" y="-7" width="23" height="14"/><text class="w" x="181.5" y="2.5" text-anchor="middle">64.8%</text>
<rect class="C" x="194" y="-7" width="23" height="14"/><text class="w" x="205.5" y="2.5" text-anchor="middle">67.1%</text>
<rect class="D" x="218" y="-7" width="23" height="14"/><text x="229.5" y="2.5" text-anchor="middle">76.2%</text>
<rect class="N" x="242" y="-7" width="23" height="14"/><text x="253.5" y="2.5" text-anchor="middle">99.3%</text>
<rect class="N" x="266" y="-7" width="23" height="14"/><text x="277.5" y="2.5" text-anchor="middle">99.9%</text>
<rect x="293" y="-7" width="21" height="14" fill="#68aad8"/><text class="w" x="303.5" y="2.5" text-anchor="middle">0.75</text></g>
<g transform="translate(0,59.6)"><rect class="L" x="75" y="-7" width="46" height="14"/><text x="77" y="2.5">NCI1</text>
<rect class="F" x="122" y="-7" width="23" height="14"/><text x="133.5" y="2.5" text-anchor="middle">94.3%</text>
<rect class="F" x="146" y="-7" width="23" height="14"/><text x="157.5" y="2.5" text-anchor="middle">95.5%</text>
<rect class="D" x="170" y="-7" width="23" height="14"/><text x="181.5" y="2.5" text-anchor="middle">83.2%</text>
<rect class="E" x="194" y="-7" width="23" height="14"/><text x="205.5" y="2.5" text-anchor="middle">86.7%</text>
<rect class="D" x="218" y="-7" width="23" height="14"/><text x="229.5" y="2.5" text-anchor="middle">83.4%</text>
<rect class="D" x="242" y="-7" width="23" height="14"/><text x="253.5" y="2.5" text-anchor="middle">85.8%</text>
<rect class="E" x="266" y="-7" width="23" height="14"/><text x="277.5" y="2.5" text-anchor="middle">89.3%</text>
<rect x="293" y="-7" width="21" height="14" fill="#2e78bb"/><text class="w" x="303.5" y="2.5" text-anchor="middle">0.88</text></g>
<g transform="translate(0,74.9)"><rect class="L" x="75" y="-7" width="46" height="14"/><text x="77" y="2.5">ENZYMES</text>
<rect class="D" x="122" y="-7" width="23" height="14"/><text x="133.5" y="2.5" text-anchor="middle">82.2%</text>
<rect class="D" x="146" y="-7" width="23" height="14"/><text x="157.5" y="2.5" text-anchor="middle">82.3%</text>
<rect class="D" x="170" y="-7" width="23" height="14"/><text x="181.5" y="2.5" text-anchor="middle">79.3%</text>
<rect class="E" x="194" y="-7" width="23" height="14"/><text x="205.5" y="2.5" text-anchor="middle">87.5%</text>
<rect class="D" x="218" y="-7" width="23" height="14"/><text x="229.5" y="2.5" text-anchor="middle">79.8%</text>
<rect class="D" x="242" y="-7" width="23" height="14"/><text x="253.5" y="2.5" text-anchor="middle">83.9%</text>
<rect class="E" x="266" y="-7" width="23" height="14"/><text x="277.5" y="2.5" text-anchor="middle">88.1%</text>
<rect x="293" y="-7" width="21" height="14" fill="#4a92c8"/><text class="w" x="303.5" y="2.5" text-anchor="middle">0.81</text></g>
<g transform="translate(0,90.2)"><rect class="L" x="75" y="-7" width="46" height="14"/><text x="77" y="2.5">MNIST</text>
<rect class="C" x="122" y="-7" width="23" height="14"/><text class="w" x="133.5" y="2.5" text-anchor="middle">69.7%</text>
<rect class="C" x="146" y="-7" width="23" height="14"/><text class="w" x="157.5" y="2.5" text-anchor="middle">69.5%</text>
<rect class="N" x="170" y="-7" width="23" height="14"/><text x="181.5" y="2.5" text-anchor="middle">100.0%</text>
<rect class="N" x="194" y="-7" width="23" height="14"/><text x="205.5" y="2.5" text-anchor="middle">100.0%</text>
<rect class="N" x="218" y="-7" width="23" height="14"/><text x="229.5" y="2.5" text-anchor="middle">99.9%</text>
<rect class="N" x="242" y="-7" width="23" height="14"/><text x="253.5" y="2.5" text-anchor="middle">100.0%</text>
<rect class="N" x="266" y="-7" width="23" height="14"/><text x="277.5" y="2.5" text-anchor="middle">100.0%</text>
<rect x="293" y="-7" width="21" height="14" fill="#08306b"/><text class="w" x="303.5" y="2.5" text-anchor="middle">1</text></g>
<g transform="translate(0,105.5)"><rect class="L" x="75" y="-7" width="46" height="14"/><text x="77" y="2.5">CIFAR10</text>
<rect class="B" x="122" y="-7" width="23" height="14"/><text class="w" x="133.5" y="2.5" text-anchor="middle">64.5%</text>
<rect class="B" x="146" y="-7" width="23" height="14"/><text class="w" x="157.5" y="2.5" text-anchor="middle">64.3%</text>
<rect class="N" x="170" y="-7" width="23" height="14"/><text x="181.5" y="2.5" text-anchor="middle">98.0%</text>
<rect class="N" x="194" y="-7" width="23" height="14"/><text x="205.5" y="2.5" text-anchor="middle">98.9%</text>
<rect class="N" x="218" y="-7" width="23" height="14"/><text x="229.5" y="2.5" text-anchor="middle">98.5%</text>
<rect class="N" x="242" y="-7" width="23" height="14"/><text x="253.5" y="2.5" text-anchor="middle">99.1%</text>
<rect class="N" x="266" y="-7" width="23" height="14"/><text x="277.5" y="2.5" text-anchor="middle">99.4%</text>
<rect x="293" y="-7" width="21" height="14" fill="#1a56a0"/><text class="w" x="303.5" y="2.5" text-anchor="middle">0.94</text></g>
<g transform="translate(0,120.8)"><rect class="L" x="75" y="-7" width="46" height="14"/><text x="77" y="2.5">D&amp;D</text>
<rect class="E" x="122" y="-7" width="23" height="14"/><text x="133.5" y="2.5" text-anchor="middle">90.4%</text>
<rect class="E" x="146" y="-7" width="23" height="14"/><text x="157.5" y="2.5" text-anchor="middle">88.9%</text>
<rect class="G" x="170" y="-7" width="23" height="14"/><text x="181.5" y="2.5" text-anchor="middle">102.6%</text>
<rect class="G" x="194" y="-7" width="23" height="14"/><text x="205.5" y="2.5" text-anchor="middle">104.3%</text>
<rect class="E" x="218" y="-7" width="23" height="14"/><text x="229.5" y="2.5" text-anchor="middle">91.4%</text>
<rect class="F" x="242" y="-7" width="23" height="14"/><text x="253.5" y="2.5" text-anchor="middle">92.2%</text>
<rect class="N" x="266" y="-7" width="23" height="14"/><text x="277.5" y="2.5" text-anchor="middle">98.7%</text>
<rect x="293" y="-7" width="21" height="14" fill="#5aa0d2"/><text class="w" x="303.5" y="2.5" text-anchor="middle">0.77</text></g>
<g transform="translate(0,136.1)"><rect class="L" x="75" y="-7" width="46" height="14"/><text x="77" y="2.5">PROTEINS</text>
<rect class="E" x="122" y="-7" width="23" height="14"/><text x="133.5" y="2.5" text-anchor="middle">90.7%</text>
<rect class="F" x="146" y="-7" width="23" height="14"/><text x="157.5" y="2.5" text-anchor="middle">95.5%</text>
<rect class="N" x="170" y="-7" width="23" height="14"/><text x="181.5" y="2.5" text-anchor="middle">100.1%</text>
<rect class="H" x="194" y="-7" width="23" height="14"/><text x="205.5" y="2.5" text-anchor="middle">108.0%</text>
<rect class="N" x="218" y="-7" width="23" height="14"/><text x="229.5" y="2.5" text-anchor="middle">99.7%</text>
<rect class="N" x="242" y="-7" width="23" height="14"/><text x="253.5" y="2.5" text-anchor="middle">100.7%</text>
<rect class="G" x="266" y="-7" width="23" height="14"/><text x="277.5" y="2.5" text-anchor="middle">102.8%</text>
<rect x="293" y="-7" width="21" height="14" fill="#68aad8"/><text class="w" x="303.5" y="2.5" text-anchor="middle">0.75</text></g>
<text class="tk" text-anchor="end" transform="translate(140,148) rotate(-45)">no-node-features</text>
<text class="tk" text-anchor="end" transform="translate(164,148) rotate(-45)">node-degree</text>
<text class="tk" text-anchor="end" transform="translate(188,148) rotate(-45)">no-edges</text>
<text class="tk" text-anchor="end" transform="translate(212,148) rotate(-45)">fully-connected</text>
<text class="tk" text-anchor="end" transform="translate(236,148) rotate(-45)">fragmented k=1</text>
<text class="tk" text-anchor="end" transform="translate(260,148) rotate(-45)">fragmented k=2</text>
<text class="tk" text-anchor="end" transform="translate(284,148) rotate(-45)">fragmented k=3</text>
<text class="tk" text-anchor="end" transform="translate(307,148) rotate(-45)">original</text>
<text class="tk" text-anchor="end" transform="translate(313,150) rotate(-45)">AUROC</text>
<text class="cap" x="160" y="206" text-anchor="middle">(d) ChebNet</text>
</svg>

<svg style="left:0;top:410px" width="640" height="25" viewBox="0 0 640 25">
<text x="-1" y="26" textLength="646" lengthAdjust="spacingAndGlyphs" style="font-family:'Liberation Serif',serif;font-size:16.5px;fill:#111">Figure 2:  <tspan style="font-weight:bold">Taxonomy of inductive graph learning datasets via graph perturbations.</tspan> For each</text>
</svg>
</body></html>
